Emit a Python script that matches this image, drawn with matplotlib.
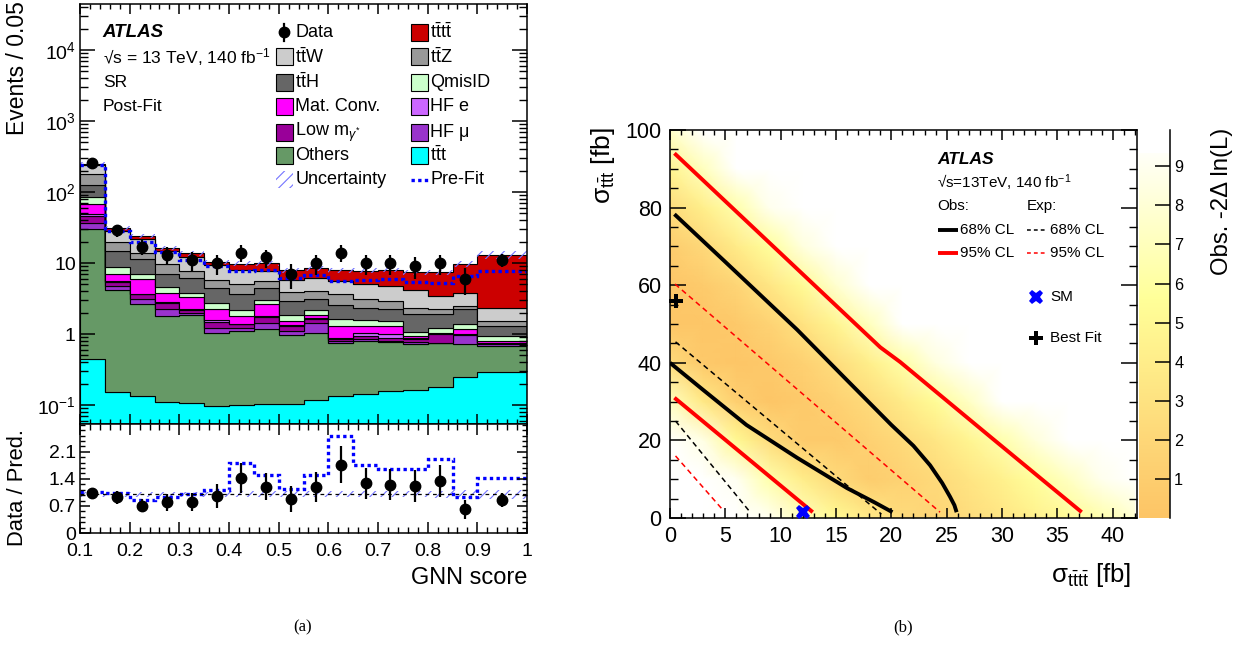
import numpy as np
import matplotlib
matplotlib.use('Agg')
import matplotlib.pyplot as plt
from matplotlib.colors import LinearSegmentedColormap, Normalize
from matplotlib.ticker import MultipleLocator, FixedLocator, LogLocator, NullFormatter, FuncFormatter
from matplotlib.patches import Rectangle

plt.rcParams['font.family'] = ['Liberation Sans', 'DejaVu Sans']
plt.rcParams['mathtext.fontset'] = 'custom'
plt.rcParams['mathtext.rm'] = 'Liberation Sans'
plt.rcParams['mathtext.it'] = 'Liberation Sans:italic'
plt.rcParams['mathtext.bf'] = 'Liberation Sans:bold'
plt.rcParams['axes.linewidth'] = 1.1
plt.rcParams['hatch.linewidth'] = 0.8
for a in ('xtick', 'ytick'):
    plt.rcParams[a + '.major.width'] = 1.1
    plt.rcParams[a + '.minor.width'] = 1.0

# ---------------- (a) GNN score distribution, post-fit ----------------
bin_edges = [0.10, 0.15, 0.20, 0.25, 0.30, 0.35, 0.40, 0.45, 0.50, 0.55,
             0.60, 0.65, 0.70, 0.75, 0.80, 0.85, 0.90, 1.00]

# yields per 0.05, stacked from the bottom up
ttt_yield = [0.45, 0.15, 0.131, 0.110, 0.106, 0.095, 0.099, 0.103, 0.101, 0.118, 0.135, 0.143, 0.156, 0.163, 0.179, 0.243, 0.288]
others = [29.6, 4.02, 2.49, 1.68, 1.74, 0.945, 1.0, 1.07, 0.88, 0.92, 0.62, 0.66, 0.62, 0.55, 0.56, 0.47, 0.39]
hf_mu = [6.0, 0.57, 0.46, 0.44, 0.15, 0.16, 0.13, 0.27, 0.12, 0.37, 0.03, 0.06, 0.02, 0.07, 0.01, 0.26, 0.04]
low_m = [10.0, 0.71, 0.54, 0.53, 0.18, 0.29, 0.14, 0.31, 0.20, 0.21, 0.07, 0.07, 0.07, 0.08, 0.25, 0.03, 0.03]
hf_e = [2.5, 0.15, 0.08, 0.09, 0.04, 0.06, 0.03, 0.04, 0.05, 0.04, 0.02, 0.09, 0.12, 0.02, 0.02, 0.0, 0.01]
mat_conv = [18.5, 1.3, 2.2, 0.97, 1.14, 0.67, 0.39, 0.88, 0.17, 0.19, 0.43, 0.28, 0.31, 0.04, 0.02, 0.16, 0.05]
qmisid = [18.0, 1.9, 1.17, 0.78, 0.46, 0.54, 0.37, 0.33, 0.31, 0.30, 0.31, 0.26, 0.22, 0.16, 0.19, 0.21, 0.13]
tth = [41.0, 6.0, 4.23, 2.5, 2.28, 1.64, 1.54, 1.4, 1.07, 1.0, 0.95, 0.79, 0.70, 0.81, 0.66, 0.85, 0.36]
ttz = [51.0, 5.2, 2.7, 2.5, 1.7, 1.4, 1.3, 1.2, 1.0, 0.95, 1.14, 0.73, 0.68, 0.46, 0.33, 0.26, 0.22]
ttw = [63.0, 8.2, 7.5, 5.2, 4.5, 3.6, 2.9, 2.1, 1.8, 2.1, 1.8, 1.92, 1.8, 1.75, 1.21, 1.34, 0.83]
tttt = [10.0, 3.2, 2.5, 1.6, 1.4, 1.0, 1.9, 2.3, 2.2, 2.2, 2.4, 2.8, 3.3, 3.3, 4.0, 6.0, 10.7]

data_obs = [258, 29, 17, 13, 11, 10, 14, 12, 7, 10, 14, 10, 10, 9, 10, 6, 11]
prefit = [241, 28.2, 19.9, 14.1, 10.9, 9.0, 7.7, 8.0, 6.2, 6.7, 5.6, 5.7, 6.0, 5.4, 5.2, 6.5, 7.7]
rel_unc = [0.06, 0.06, 0.07, 0.07, 0.07, 0.07, 0.08, 0.08, 0.08, 0.08, 0.08, 0.08, 0.08, 0.08, 0.09, 0.10, 0.12]

# ---------------- (b) observed -2 Delta ln(L) scan ----------------
sig4_grid = [0, 3, 6, 9, 12, 15, 18, 21, 24, 27, 30, 33, 36, 39, 42]
sig3_grid = [0, 10, 20, 30, 40, 50, 60, 70, 80, 90, 100]
nll_obs = [
    [10, 10, 10, 9.0, 6.9, 5.1, 3.6, 2.3, 1.8, 2.5, 3.3, 4.3, 5.3, 6.4, 7.7],
    [10, 10, 9.1, 6.3, 3.9, 2.2, 0.9, 1.4, 2.2, 3.2, 4.3, 5.7, 7.2, 8.9, 10],
    [10, 8.6, 5.0, 2.4, 0.7, 0.6, 1.3, 2.2, 3.3, 4.7, 6.3, 8.2, 10, 10, 10],
    [7.1, 3.5, 1.1, 0.1, 0.6, 1.3, 2.3, 3.7, 5.3, 7.3, 9.5, 10, 10, 10, 10],
    [2.3, 0.5, 0.1, 0.5, 1.3, 2.5, 4.1, 6.1, 8.4, 10, 10, 10, 10, 10, 10],
    [0.1, 0.1, 0.5, 1.5, 2.9, 4.7, 7.0, 9.8, 10, 10, 10, 10, 10, 10, 10],
    [0.1, 0.7, 1.8, 3.3, 5.2, 7.7, 10, 10, 10, 10, 10, 10, 10, 10, 10],
    [0.9, 2.1, 3.7, 5.7, 8.3, 10, 10, 10, 10, 10, 10, 10, 10, 10, 10],
    [2.4, 4.1, 6.3, 8.9, 10, 10, 10, 10, 10, 10, 10, 10, 10, 10, 10],
    [4.7, 7.0, 9.7, 10, 10, 10, 10, 10, 10, 10, 10, 10, 10, 10, 10],
    [7.5, 10, 10, 10, 10, 10, 10, 10, 10, 10, 10, 10, 10, 10, 10],
]
nll_max = 9.33

# contour lines: (sigma_tttt, sigma_ttt) vertices
obs68_hi_x = [0.4, 5.0, 11.5, 16.0, 20.0, 22.0, 23.5, 24.6, 25.3, 25.7, 25.9]
obs68_hi_y = [78.3, 66.0, 48.5, 35.5, 24.0, 18.6, 13.6, 9.0, 5.5, 3.3, 1.5]
obs68_lo_x = [0.0, 3.0, 6.9, 11.5, 16.0, 18.5, 20.1]
obs68_lo_y = [40.0, 33.0, 24.0, 15.5, 7.7, 4.0, 1.5]
obs95_hi_x = [0.4, 10.0, 19.0, 20.8, 29.0, 37.2]
obs95_hi_y = [94.0, 68.2, 44.0, 40.2, 20.8, 1.5]
obs95_lo_x = [0.4, 12.9]
obs95_lo_y = [31.0, 1.5]
exp68_hi_x = [0.5, 19.1]
exp68_hi_y = [45.4, 1.0]
exp68_lo_x = [0.5, 7.1]
exp68_lo_y = [25.0, 2.0]
exp95_hi_x = [0.45, 24.4]
exp95_hi_y = [60.3, 1.5]
exp95_lo_x = [0.5, 4.8]
exp95_lo_y = [16.0, 2.0]
sm_point = (12.0, 1.5)
best_fit = (0.5, 56.0)

# ---------------- layout ----------------
W, H = 1239, 645
fig = plt.figure(figsize=(W / 100, H / 100), dpi=100)


def px_box(x0, y0, x1, y1):
    return [x0 / W, 1 - y1 / H, (x1 - x0) / W, (y1 - y0) / H]


ax = fig.add_axes(px_box(80, 4, 527, 424))
rax = fig.add_axes(px_box(80, 424, 527, 533))
bax = fig.add_axes(px_box(670, 130, 1137, 518))
cax = fig.add_axes(px_box(1139, 130, 1170, 518))

edges = np.array(bin_edges)
centers = 0.5 * (edges[1:] + edges[:-1])
width_scale = (edges[1:] - edges[:-1]) / 0.05

stack = [
    (ttt_yield, '#00ffff'),
    (others, '#669966'),
    (hf_mu, '#9933cc'),
    (low_m, '#990099'),
    (hf_e, '#cc66ff'),
    (mat_conv, '#ff00ff'),
    (qmisid, '#ccffcc'),
    (tth, '#666666'),
    (ttz, '#999999'),
    (ttw, '#cccccc'),
    (tttt, '#cc0000'),
]

bottom = np.full(len(centers), 1e-3)
for vals, col in stack:
    top = bottom + np.array(vals)
    ax.stairs(top, edges, baseline=bottom, fill=True, facecolor=col,
              edgecolor='black', linewidth=0.8)
    bottom = top
total = bottom - 1e-3

unc = np.array(rel_unc)
hatch_col = '#7474ff'
ax.stairs(total * (1 + unc), edges, baseline=total * (1 - unc), fill=True,
          facecolor='none', edgecolor=hatch_col, hatch='///', linewidth=0)
ax.stairs(prefit, edges, baseline=None, color='#0000ff', linewidth=2.4,
          linestyle=(0, (1, 1)))

data = np.array(data_obs, dtype=float)
data_err = np.sqrt(data * width_scale) / width_scale
ax.errorbar(centers, data, yerr=data_err, fmt='o', color='black', ms=7.5,
            elinewidth=1.6, capsize=0, zorder=6)

ax.set_xlim(0.1, 1.0)
ax.set_yscale('log')
ax.set_ylim(0.054, 44500)
ax.yaxis.set_major_locator(FixedLocator([0.1, 1, 10, 100, 1000, 10000]))
ax.yaxis.set_major_formatter(FuncFormatter(
    lambda v, p: {0.1: '$10^{-1}$', 1: '1', 10: '10'}.get(round(v, 1), '$10^{%d}$' % round(np.log10(v)))))
ax.yaxis.set_minor_locator(LogLocator(base=10, subs=np.arange(2, 10) * 1.0, numticks=20))
ax.yaxis.set_minor_formatter(NullFormatter())
ax.xaxis.set_major_locator(MultipleLocator(0.1))
ax.xaxis.set_minor_locator(MultipleLocator(0.02))
ax.tick_params(which='both', direction='in', top=True, right=True, labelbottom=False)
ax.tick_params(axis='y', which='major', length=11, labelsize=14, pad=3)
ax.tick_params(axis='y', which='minor', length=5.5)
ax.tick_params(axis='x', which='major', length=7)
ax.tick_params(axis='x', which='minor', length=3.5)

# text block and legend
ta = ax.transAxes
ax.text(0.051, 0.933, 'ATLAS', transform=ta, fontsize=13.5, fontweight='bold',
        fontstyle='italic', va='center')
ax.text(0.051, 0.874, '√s = 13 TeV, 140 fb$^{-1}$', transform=ta, fontsize=12.5, va='center')
ax.text(0.051, 0.814, 'SR', transform=ta, fontsize=12.5, va='center')
ax.text(0.051, 0.755, 'Post-Fit', transform=ta, fontsize=12.5, va='center')

bw, bh = 0.038, 0.0405
rows = [0.933, 0.874, 0.814, 0.755, 0.695, 0.640, 0.581]
col_x = [0.438, 0.740]
entries = [
    ('data', None, 'Data'), ('fill', '#cc0000', r'$\mathrm{t\bar{t}t\bar{t}}$'),
    ('fill', '#cccccc', r'$\mathrm{t\bar{t}W}$'), ('fill', '#999999', r'$\mathrm{t\bar{t}Z}$'),
    ('fill', '#666666', r'$\mathrm{t\bar{t}H}$'), ('fill', '#ccffcc', 'QmisID'),
    ('fill', '#ff00ff', 'Mat. Conv.'), ('fill', '#cc66ff', 'HF e'),
    ('fill', '#990099', r'Low m$_{\gamma^{*}}$'), ('fill', '#9933cc', 'HF μ'),
    ('fill', '#669966', 'Others'), ('fill', '#00ffff', r'$\mathrm{t\bar{t}t}$'),
    ('hatch', None, 'Uncertainty'), ('line', None, 'Pre-Fit'),
]
for i, (kind, col, label) in enumerate(entries):
    x0 = col_x[i % 2]
    yc = rows[i // 2]
    if kind == 'fill':
        ax.add_patch(Rectangle((x0, yc - bh / 2), bw, bh, transform=ta, facecolor=col,
                               edgecolor='black', linewidth=0.8))
    elif kind == 'hatch':
        ax.add_patch(Rectangle((x0, yc - bh / 2), bw, bh, transform=ta, facecolor='none',
                               edgecolor=hatch_col, hatch='///', linewidth=0))
    elif kind == 'line':
        ax.plot([x0, x0 + bw], [yc, yc], transform=ta, color='#0000ff', lw=2.4,
                ls=(0, (1, 1)))
    else:
        ax.plot([x0 + bw / 2] * 2, [yc - bh / 2, yc + bh / 2], transform=ta, color='black', lw=1.6)
        ax.plot(x0 + bw / 2, yc, 'o', transform=ta, color='black', ms=7.5)
    ax.text(x0 + bw + 0.006, yc, label, transform=ta, fontsize=13, va='center')

# ratio panel
rax.stairs(1 + unc, edges, baseline=1 - unc, fill=True, facecolor='none',
           edgecolor=hatch_col, hatch='///', linewidth=0)
rax.axhline(1.0, color='black', lw=0.9, ls=(0, (3, 3)))
rax.stairs(data / np.array(prefit), edges, baseline=None, color='#0000ff',
           linewidth=2.4, linestyle=(0, (1, 1)))
rax.errorbar(centers, data / total, yerr=data_err / total, fmt='o', color='black',
             ms=7.5, elinewidth=1.6, capsize=0, zorder=6)
rax.set_xlim(0.1, 1.0)
rax.set_ylim(0, 2.82)
rax.yaxis.set_major_locator(FixedLocator([0, 0.7, 1.4, 2.1]))
rax.yaxis.set_major_formatter(FuncFormatter(lambda v, p: '%g' % v))
rax.yaxis.set_minor_locator(MultipleLocator(0.14))
rax.xaxis.set_major_locator(MultipleLocator(0.1))
rax.xaxis.set_minor_locator(MultipleLocator(0.02))
rax.xaxis.set_major_formatter(FuncFormatter(lambda v, p: '%g' % round(v, 2)))
rax.tick_params(which='both', direction='in', top=True, right=True, labelsize=14)
rax.tick_params(axis='y', which='major', length=7, pad=3)
rax.tick_params(axis='y', which='minor', length=3.5)
rax.tick_params(axis='x', which='major', length=8, pad=7)
rax.tick_params(axis='x', which='minor', length=4)

fig.text(18 / W, 1 - 1 / H, 'Events / 0.05', rotation=90, ha='center', va='top', fontsize=16.5)
fig.text(18 / W, 1 - 429 / H, 'Data / Pred.', rotation=90, ha='center', va='top', fontsize=15.8)
fig.text(527 / W, 1 - 578 / H, 'GNN score', ha='right', va='center', fontsize=17)
fig.text(303 / W, 1 - 627 / H, '(a)', ha='center', va='center', fontsize=12,
         family='Liberation Serif')

# ---------------- (b) ----------------
nll_cmap = LinearSegmentedColormap.from_list(
    'nll', [(0.0, '#fdc566'), (0.2, '#fed677'), (0.4, '#ffeb88'),
            (0.6, '#ffff99'), (0.8, '#ffffc8'), (1.0, '#fffff8')])
nll_cmap = nll_cmap.with_extremes(over='white')
norm = Normalize(0, nll_max)

G4, G3 = np.meshgrid(sig4_grid, sig3_grid)
bax.pcolormesh(G4, G3, np.array(nll_obs, dtype=float), shading='gouraud',
               cmap=nll_cmap, norm=norm, rasterized=True)

solid = dict(lw=2.8, solid_capstyle='butt')
dashed = dict(lw=1.1, ls=(0, (3.5, 2.5)))
bax.plot(obs68_hi_x, obs68_hi_y, color='black', **solid)
bax.plot(obs68_lo_x, obs68_lo_y, color='black', **solid)
bax.plot(obs95_hi_x, obs95_hi_y, color='#ff0000', **solid)
bax.plot(obs95_lo_x, obs95_lo_y, color='#ff0000', **solid)
bax.plot(exp68_hi_x, exp68_hi_y, color='black', **dashed)
bax.plot(exp68_lo_x, exp68_lo_y, color='black', **dashed)
bax.plot(exp95_hi_x, exp95_hi_y, color='#ff0000', **dashed)
bax.plot(exp95_lo_x, exp95_lo_y, color='#ff0000', **dashed)
bax.plot(*sm_point, marker='X', color='#0000ff', ms=10.5, mew=0, clip_on=False, zorder=6)
bax.plot(*best_fit, marker='P', color='black', ms=9.5, mew=0, clip_on=False, zorder=6)

bax.set_xlim(0, 42.2)
bax.set_ylim(0, 100)
bax.xaxis.set_major_locator(MultipleLocator(5))
bax.xaxis.set_minor_locator(MultipleLocator(1))
bax.yaxis.set_major_locator(MultipleLocator(20))
bax.yaxis.set_minor_locator(MultipleLocator(5))
bax.tick_params(which='both', direction='in', top=True, right=True, labelsize=15.5)
bax.tick_params(axis='x', which='major', length=7, pad=6)
bax.tick_params(axis='x', which='minor', length=3.5)
bax.tick_params(axis='y', which='major', length=11.5, pad=6)
bax.tick_params(axis='y', which='minor', length=6)

tb = bax.transAxes
bax.text(0.572, 0.923, 'ATLAS', transform=tb, fontsize=12.5, fontweight='bold',
         fontstyle='italic', va='center')
bax.text(0.572, 0.863, '√s=13TeV, 140 fb$^{-1}$', transform=tb, fontsize=11, va='center')
bax.text(0.572, 0.804, 'Obs:', transform=tb, fontsize=11, va='center')
bax.text(0.764, 0.804, 'Exp:', transform=tb, fontsize=11, va='center')
for fy, col, lab in [(0.742, 'black', '68% CL'), (0.683, '#ff0000', '95% CL')]:
    bax.plot([0.574, 0.617], [fy, fy], transform=tb, color=col, **solid)
    bax.text(0.621, fy, lab, transform=tb, fontsize=11, va='center')
    bax.plot([0.764, 0.803], [fy, fy], transform=tb, color=col, lw=1.1, ls=(0, (2.5, 2)))
    bax.text(0.814, fy, lab, transform=tb, fontsize=11, va='center')
bax.plot(0.784, 0.570, marker='X', color='#0000ff', ms=10.5, mew=0, transform=tb)
bax.text(0.814, 0.570, 'SM', transform=tb, fontsize=11, va='center')
bax.plot(0.784, 0.464, marker='P', color='black', ms=9.5, mew=0, transform=tb)
bax.text(0.814, 0.464, 'Best Fit', transform=tb, fontsize=11, va='center')

fig.text(603 / W, 1 - 127 / H, r'σ$_{\mathrm{t\bar{t}t}}$ [fb]', rotation=90,
         ha='center', va='top', fontsize=19)
fig.text(1131 / W, 1 - 575 / H, r'σ$_{\mathrm{t\bar{t}t\bar{t}}}$ [fb]',
         ha='right', va='center', fontsize=18.5)
fig.text(903 / W, 1 - 627 / H, '(b)', ha='center', va='center', fontsize=12,
         family='Liberation Serif')

# colour scale
zz = np.linspace(0, nll_max, 256)
cax.imshow(zz[:, None], extent=[0, 1, 0, nll_max], origin='lower', aspect='auto',
           cmap=nll_cmap, norm=norm)
cax.set_xlim(0, 1)
cax.set_ylim(0, 9.93)
for s in ('left', 'top', 'bottom'):
    cax.spines[s].set_visible(False)
cax.set_xticks([])
cax.yaxis.tick_right()
cax.yaxis.set_major_locator(FixedLocator(range(1, 10)))
cax.tick_params(axis='y', direction='in', length=10.8, labelsize=11.7, pad=3)
fig.text(1222 / W, 1 - 128 / H, 'Obs. -2Δ ln(L)', rotation=90, ha='center', va='top',
         fontsize=17.2)

fig.savefig('out.png', dpi=100)
